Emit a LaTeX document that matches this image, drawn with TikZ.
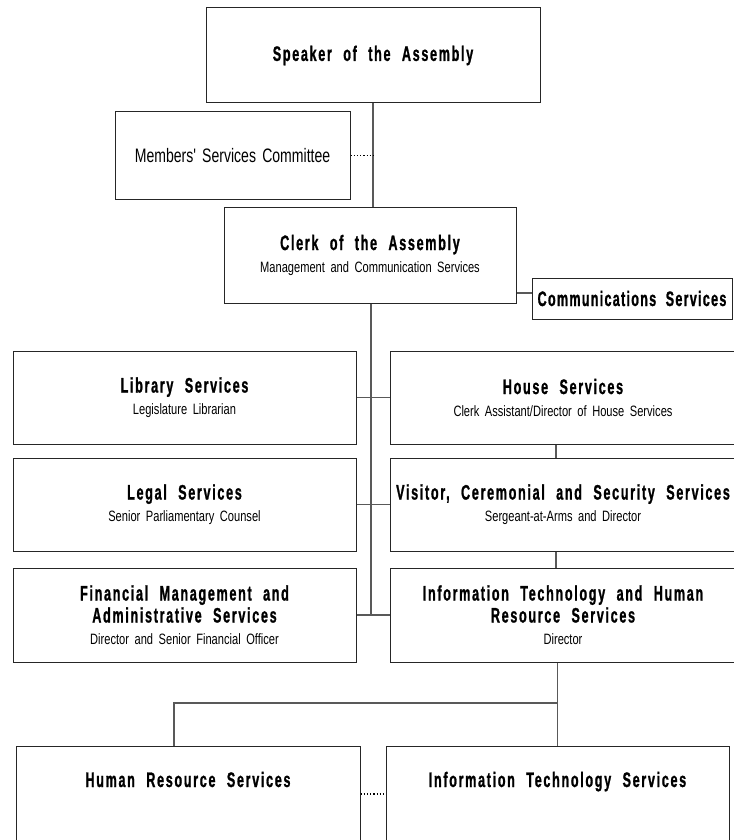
\documentclass[tikz,border=0pt]{standalone}
\usepackage{fontspec}
\setmainfont{Liberation Sans}
\newfontfamily\titlefam[FakeStretch=0.6,LetterSpace=8,WordSpace=2.2,FakeBold=1]{Liberation Sans}
\newfontfamily\commfam[FakeStretch=0.6,LetterSpace=6,WordSpace=2,FakeBold=1]{Liberation Sans}
\newfontfamily\subfam[FakeStretch=0.74,WordSpace=1.8]{Liberation Sans}
\newfontfamily\memfam[FakeStretch=0.72,WordSpace=1.6]{Liberation Sans}
\newcommand{\myT}{\titlefam\bfseries\fontsize{21}{22}\selectfont}
\newcommand{\myTc}{\commfam\bfseries\fontsize{21}{22}\selectfont}
\newcommand{\myS}{\subfam\fontsize{15}{22}\selectfont}
\newcommand{\myM}{\memfam\fontsize{19.5}{22}\selectfont}
\tikzset{
  box/.style={draw=black!85, line width=1pt, rectangle, inner sep=0pt, align=center,
    font=\myS},
  conn/.style={draw=black!65, line width=1.1pt},
  dotc/.style={draw=black, line width=1.3pt, dash pattern=on 1.2pt off 2pt},
  ttl/.style={inner sep=0pt, font=\myT},
}
\begin{document}
\begin{tikzpicture}[x=1pt,y=-1pt]
\useasboundingbox (0,0) rectangle (733,840);
% boxes
\node[box, minimum width=334, minimum height=95] (speaker) at (373,55.5) {{\myT Speaker of the Assembly}};
\node[box, minimum width=235, minimum height=87] (members) at (232.5,155.5) {{\myM Members' Services Committee}};
\node[box, minimum width=292, minimum height=96] (clerk) at (370,255) {{\myT Clerk of the Assembly}\\{\myS Management and Communication Services}};
\node[box, minimum width=200, minimum height=41] (comm) at (632,298.5) {{\myTc Communications Services}};
\node[box, minimum width=343, minimum height=93] (library) at (184.5,397.5) {{\myT Library Services}\\{\myS Legislature Librarian}};
\node[box, minimum width=346, minimum height=93] (house) at (563,397.5) {{\myT House Services}\\{\myS Clerk Assistant/Director of House Services}};
\node[box, minimum width=343, minimum height=93] (legal) at (184.5,504.5) {{\myT Legal Services}\\{\myS Senior Parliamentary Counsel}};
\node[box, minimum width=346, minimum height=93] (visitor) at (563,504.5) {{\myT Visitor, Ceremonial and Security Services}\\{\myS Sergeant-at-Arms and Director}};
\node[box, minimum width=343, minimum height=94] (fin) at (184.5,615) {{\myT Financial Management and}\\{\myT Administrative Services}\\{\myS Director and Senior Financial Officer}};
\node[box, minimum width=346, minimum height=94] (ithr) at (563,615) {{\myT Information Technology and Human}\\{\myT Resource Services}\\{\myS Director}};
\node[box, minimum width=344, minimum height=96] (hr) at (188,794) {};
\node[box, minimum width=343, minimum height=96] (it) at (557.5,794) {};
\coordinate (hbl) at (0,787);
\node[ttl, anchor=base] (hrt) at (hr.north |- hbl) {Human Resource Services};
\node[ttl, anchor=base] (itt) at (it.north |- hbl) {Information Technology Services};
% connectors
\draw[conn] (speaker.south) -- (speaker.south |- clerk.north);
\draw[dotc] (members.east) -- (members.east -| speaker.south);
\coordinate (tr) at (371,0);
\draw[conn] (clerk.south -| tr) -- (fin.east -| tr);
\coordinate (cy) at (0,293);
\draw[conn] (clerk.east |- cy) -- (comm.west |- cy);
\draw[conn] (library.east) -- (house.west);
\draw[conn] (legal.east) -- (visitor.west);
\draw[conn] (fin.east) -- (ithr.west);
\coordinate (vx) at (556,0);
\draw[conn] (house.south -| vx) -- (visitor.north -| vx);
\draw[conn] (visitor.south -| vx) -- (ithr.north -| vx);
\coordinate (hj) at (174,703);
\draw[conn] (ithr.south -| it.north) -- (it.north);
\draw[conn] (hr.north -| hj) -- (hj) -- (hj -| it.north);
\draw[dotc] (hr.east) -- (it.west);
\end{tikzpicture}
\end{document}
